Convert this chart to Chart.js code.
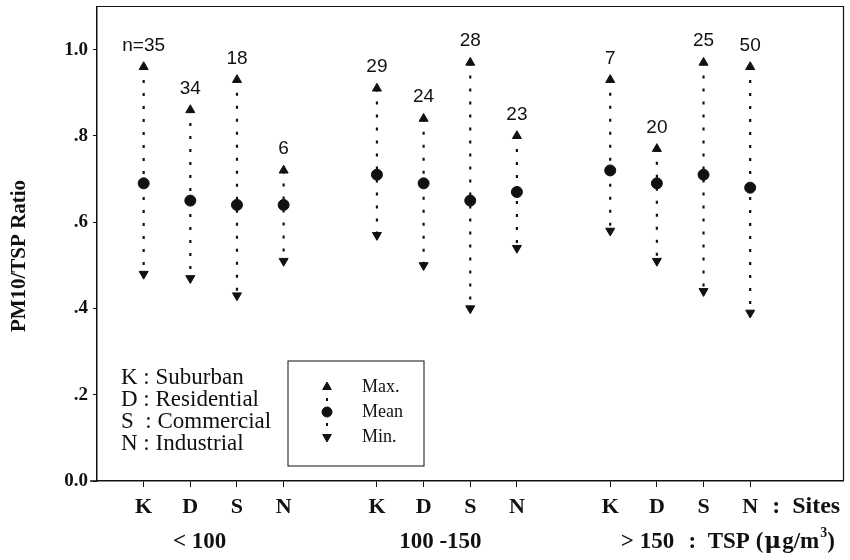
<!DOCTYPE html>
<html>
<head>
<meta charset="utf-8">
<script src="https://cdn.jsdelivr.net/npm/chart.js@4.4.0/dist/chart.umd.min.js"></script>
<style>
  html, body { margin: 0; padding: 0; background: #fff; }
  #wrap { width: 850px; height: 560px; }
</style>
</head>
<body>
<div id="wrap"><canvas id="c"></canvas></div>
<script>
/* ─── Data ─── */
const siteLabels = ['K', 'D', 'S', 'N', 'K', 'D', 'S', 'N', 'K', 'D', 'S', 'N'];
const sitePos    = [0, 1, 2, 3, 5, 6, 7, 8, 10, 11, 12, 13];
const maxRatio   = [0.96, 0.86, 0.93, 0.72, 0.91, 0.84, 0.97, 0.80, 0.93, 0.77, 0.97, 0.96];
const meanRatio  = [0.69, 0.65, 0.64, 0.64, 0.71, 0.69, 0.65, 0.67, 0.72, 0.69, 0.71, 0.68];
const minRatio   = [0.48, 0.47, 0.43, 0.51, 0.57, 0.50, 0.40, 0.54, 0.58, 0.51, 0.44, 0.39];
const sampleN    = ['n=35', '34', '18', '6', '29', '24', '28', '23', '7', '20', '25', '50'];
const tspGroups  = ['< 100', '100 -150', '> 150'];
const groupPos   = [1.2, 6.36, 10.8];
const yTicks     = [0, 0.2, 0.4, 0.6, 0.8, 1.0];
const siteNames  = ['K : Suburban', 'D : Residential', 'S  : Commercial', 'N : Industrial'];
const legendRows = ['Max.', 'Mean', 'Min.'];

/* ─── Style ─── */
const INK   = '#111';
const SERIF = '"Liberation Serif", "Times New Roman", serif';
const SANS  = '"Liberation Sans", Arial, sans-serif';

/* ─── Dotted range lines: max → min, broken by nulls ─── */
const rangeLine = [];
sitePos.forEach((x, i) => {
  rangeLine.push({ x, y: maxRatio[i] }, { x, y: minRatio[i] }, { x, y: null });
});

const toPoints = vals => sitePos.map((x, i) => ({ x, y: vals[i] }));

/* ─── Extra text, frame and legend box ─── */
const annotate = {
  id: 'annotate',
  afterDraw(chart) {
    const { ctx, chartArea: a, scales: { x, y } } = chart;
    ctx.save();

    // top and right frame
    ctx.strokeStyle = INK;
    ctx.lineWidth = 1.2;
    ctx.beginPath();
    ctx.moveTo(a.left, a.top);
    ctx.lineTo(a.right, a.top);
    ctx.lineTo(a.right, a.bottom);
    ctx.stroke();

    // bottom axis runs a little past the y axis
    ctx.lineWidth = 1.5;
    ctx.beginPath();
    ctx.moveTo(a.left - 7, a.bottom);
    ctx.lineTo(a.left, a.bottom);
    ctx.stroke();

    // sample counts above each max
    ctx.fillStyle = INK;
    ctx.font = '19px ' + SANS;
    ctx.textAlign = 'center';
    ctx.textBaseline = 'bottom';
    sampleN.forEach((t, i) => {
      ctx.fillText(t, x.getPixelForValue(sitePos[i]), y.getPixelForValue(maxRatio[i]) - 12);
    });

    // y title
    ctx.save();
    ctx.translate(20, 256);
    ctx.rotate(-Math.PI / 2);
    ctx.font = 'bold 21px ' + SERIF;
    ctx.textAlign = 'center';
    ctx.textBaseline = 'middle';
    ctx.fillText('PM10/TSP Ratio', 0, 0);
    ctx.restore();

    // site name key
    ctx.font = '23px ' + SERIF;
    ctx.textAlign = 'left';
    ctx.textBaseline = 'middle';
    siteNames.forEach((t, i) => ctx.fillText(t, a.left + 24, 378 + i * 22));

    // legend box
    const bx = a.left + 191, by = 361, bw = 136, bh = 105;
    ctx.lineWidth = 1;
    ctx.strokeRect(bx, by, bw, bh);
    const mx = bx + 39;
    const rows = [387, 412, 437];
    const styles = [
      { pointStyle: 'triangle', rotation: 0, radius: 5 },
      { pointStyle: 'circle', rotation: 0, radius: 5 },
      { pointStyle: 'triangle', rotation: 180, radius: 5 },
    ];
    ctx.fillStyle = INK;
    styles.forEach((s, i) => {
      Chart.helpers.drawPoint(ctx, { ...s, borderWidth: 1 }, mx, rows[i]);
    });
    ctx.fillRect(mx - 1, 398, 2, 3);
    ctx.fillRect(mx - 1, 423, 2, 3);
    ctx.font = '18px ' + SERIF;
    legendRows.forEach((t, i) => ctx.fillText(t, bx + 74, rows[i]));

    // ": Sites" after last tick row
    ctx.font = 'bold 24px ' + SERIF;
    ctx.textBaseline = 'middle';
    ctx.fillText(':  Sites', x.getPixelForValue(13) + 22, 507);

    // TSP group labels
    ctx.font = 'bold 23px ' + SERIF;
    ctx.textAlign = 'center';
    tspGroups.forEach((t, i) => ctx.fillText(t, x.getPixelForValue(groupPos[i]), 542));

    // unit tail: ": TSP (μg/m³)"
    ctx.textAlign = 'left';
    let tx = x.getPixelForValue(groupPos[2]) + 41;
    const part = (t, font, dy = 0, gap = 0) => {
      ctx.font = font;
      ctx.fillText(t, tx, 542 + dy);
      tx += ctx.measureText(t).width + gap;
    };
    part(':  TSP (', 'bold 23px ' + SERIF, 0, 1);
    part('\u03bc', 'bold 23px "DejaVu Serif", serif', 0, 1);
    part('g/m', 'bold 23px ' + SERIF, 0, 1);
    part('3', 'bold 14px ' + SERIF, -9);
    part(')', 'bold 23px ' + SERIF);

    ctx.restore();
  }
};

/* ─── Chart ─── */
new Chart(document.getElementById('c'), {
  type: 'scatter',
  data: {
    datasets: [
      {
        label: 'Max.',
        data: toPoints(maxRatio),
        pointStyle: 'triangle',
        pointRadius: 5.2,
        backgroundColor: INK,
        borderColor: INK,
        borderWidth: 1,
        order: 0,
      },
      {
        label: 'Mean',
        data: toPoints(meanRatio),
        pointStyle: 'circle',
        pointRadius: 5.5,
        backgroundColor: INK,
        borderColor: INK,
        borderWidth: 1,
        order: 0,
      },
      {
        label: 'Min.',
        data: toPoints(minRatio),
        pointStyle: 'triangle',
        rotation: 180,
        pointRadius: 5.2,
        backgroundColor: INK,
        borderColor: INK,
        borderWidth: 1,
        order: 0,
      },
      {
        label: 'range',
        data: rangeLine,
        showLine: true,
        spanGaps: false,
        pointRadius: 0,
        borderColor: INK,
        borderWidth: 2.2,
        borderDash: [3, 10],
        order: 5,
      },
    ],
  },
  options: {
    responsive: true,
    maintainAspectRatio: false,
    animation: false,
    layout: { padding: { top: 4, right: -3, left: 0, bottom: 0 } },
    plugins: {
      legend: { display: false },
      tooltip: { enabled: false },
    },
    scales: {
      x: {
        type: 'linear',
        min: -1,
        max: 15,
        afterBuildTicks: s => { s.ticks = sitePos.map(v => ({ value: v })); },
        afterFit: s => { s.height = 79; s.paddingLeft = 0; s.paddingRight = 0; },
        ticks: {
          autoSkip: false,
          maxRotation: 0,
          color: INK,
          padding: 7,
          font: { family: SERIF, size: 22, weight: 'bold' },
          callback: (v, i) => siteLabels[i],
        },
        grid: { drawOnChartArea: false, tickLength: 6, color: INK, lineWidth: 1 },
        border: { color: INK, width: 1.5 },
      },
      y: {
        min: 0,
        max: 1.1,
        afterBuildTicks: s => { s.ticks = yTicks.map(v => ({ value: v })); },
        afterFit: s => { s.width = 97; s.paddingTop = 0; s.paddingBottom = 0; },
        ticks: {
          color: INK,
          padding: 5,
          font: { family: SERIF, size: 19, weight: 'bold' },
          callback: v => (v === 0 ? '0.0' : v >= 1 ? '1.0' : v.toFixed(1).replace(/^0/, '')),
        },
        grid: { drawOnChartArea: false, tickLength: 4, color: INK, lineWidth: 1 },
        border: { color: INK, width: 1.5 },
      },
    },
  },
  plugins: [annotate],
});
</script>
</body>
</html>
